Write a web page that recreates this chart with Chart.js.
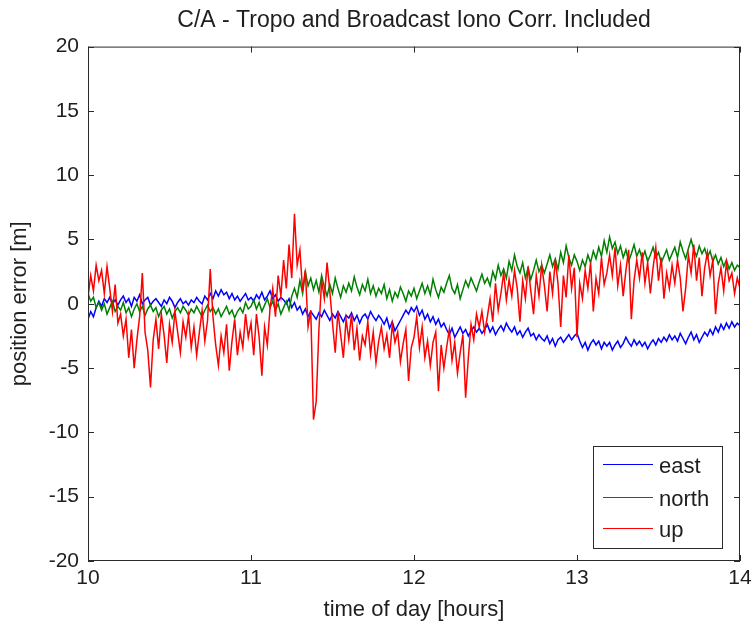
<!DOCTYPE html>
<html>
<head>
<meta charset="utf-8">
<script src="https://cdn.jsdelivr.net/npm/chart.js@4"></script>
<style>
  html, body { margin: 0; padding: 0; background: #fff; }
  #chart { display: block; }
</style>
</head>
<body>
<canvas id="chart" width="752" height="626"></canvas>
<script>
// samples every minute from 10:00 to 14:00
const startHour = 10;
const samplesPerHour = 60;

const seriesNames = ["east", "north", "up"];
const seriesColors = ["#0000ff", "#008000", "#ff0000"];
const xTicks = [10, 11, 12, 13, 14];
const yTicks = [-20, -15, -10, -5, 0, 5, 10, 15, 20];

const east = [
  -1.2, -0.6, -1.0, -0.3, 0.2, -0.2, 0.4, 0.1, 0.5, 0.0, 0.3, -0.1,
  0.3, 0.6, 0.1, 0.4, -0.2, 0.5, 0.2, 0.7, 0.0, 0.3, 0.5, -0.1,
  0.2, 0.4, 0.1, -0.2, 0.3, 0.0, 0.5, 0.2, -0.3, 0.1, 0.4, 0.0,
  0.2, -0.1, 0.3, 0.1, 0.5, 0.2, 0.0, 0.6, 0.3, 0.8, 0.4, 1.0,
  0.6, 1.1, 0.7, 0.9, 0.4, 0.8, 0.3, 0.6, 0.2, 0.5, 0.8, 0.3,
  0.5, 0.2, 0.7, 0.4, 0.9, 0.3, 0.6, 1.0, 0.4, 0.7, 0.2, 0.5,
  0.3, 0.0, 0.4, -0.3, 0.1, -0.5, -0.2, -0.8, -0.4, -1.0, -0.6, -0.9,
  -1.2, -0.7, -1.0, -0.5, -0.9, -1.3, -0.8, -1.1, -0.6, -1.0, -1.4, -0.9,
  -1.1, -0.7, -1.3, -0.9, -1.5, -1.0, -0.8, -1.2, -0.6, -1.0, -1.3, -0.9,
  -1.2, -1.6, -1.1, -1.9, -1.4, -2.1, -1.7, -1.3, -0.9, -0.5, -0.8, -0.3,
  -0.6, -0.2, -0.9, -0.5, -1.2, -0.8, -1.4, -1.0, -1.6, -1.2, -1.8, -1.5,
  -2.0, -2.4, -1.9, -2.6, -2.2, -1.8, -2.3, -2.0, -2.5, -2.1, -1.8, -2.2,
  -1.9, -2.3, -2.0, -1.6, -2.2, -1.8, -2.4, -2.0, -1.7, -2.1, -1.5, -1.9,
  -2.2, -1.8, -2.4, -2.1, -2.6, -2.2, -1.9, -2.5, -2.3, -2.8, -2.4, -2.7,
  -2.9, -2.5, -3.1, -2.7, -3.3, -2.8, -2.6, -3.0, -2.7, -2.4, -2.8, -2.5,
  -2.3, -2.9, -3.4, -3.0, -3.6, -3.1, -2.8, -3.2, -2.9, -3.5, -3.0, -3.3,
  -3.0, -3.6, -3.2, -2.9, -3.4, -3.1, -2.6, -3.0, -3.3, -2.8, -3.2, -2.9,
  -3.3, -3.0, -3.5, -3.1, -2.8, -3.2, -2.7, -3.0, -2.6, -2.9, -2.4, -2.8,
  -2.5, -2.9, -2.3, -2.7, -3.1, -2.6, -2.2, -2.8, -2.4, -3.0, -2.6, -2.2,
  -2.5, -2.0, -2.4, -1.8, -2.2, -1.6, -2.0, -1.5, -1.9, -1.4, -1.8, -1.5, -1.7
];

const north = [
  0.8, 0.2, 0.5, -0.3, 0.1, -0.5, 0.0, -0.8, -0.3, 0.2, -0.6, -0.2,
  -0.5, 0.1, -0.7, -0.3, -1.0, -0.4, 0.0, -0.6, -0.2, -0.9, -0.4, -0.1,
  -0.6, -0.3, -1.0, -0.5, -0.2, -0.8, -0.4, -1.1, -0.6, -0.3, -0.7, -0.2,
  -0.5, -0.9, -0.4, -0.7, -0.2, -0.6, -1.0, -0.5, -0.1, -0.6, -0.3, -0.8,
  -0.4, -1.0, -0.6, -0.2, -0.8, -0.5, -1.1, -0.6, -0.3, -0.7, 0.1, -0.4,
  -0.2, 0.3, -0.4, 0.1, -0.6, -0.1, 0.4, -0.3, 0.2, -0.5, 0.0, -0.8,
  -0.3, 0.2, -0.5, 0.6, 1.2, 0.5, 1.8, 0.8, 2.5, 1.4, 2.0, 1.1,
  1.8, 0.9, 2.2, 1.3, 0.6, 1.5, 0.8, 2.0, 1.2, 0.5, 1.4, 0.9,
  1.6, 1.0, 2.1, 1.3, 0.7, 1.5, 1.0, 1.9, 0.8, 1.4, 0.6, 1.2,
  0.8, 1.5, 0.4, 1.1, 0.2, 0.9, 0.5, 1.3, 0.8, 0.2, 1.0, 0.6,
  1.2, 0.4, 1.0, 1.6, 0.8, 1.4, 0.7, 1.9, 1.1, 0.5, 1.3, 0.9,
  1.6, 2.2, 1.2, 0.8, 1.5, 0.4, 1.1, 1.8, 1.3, 2.0, 1.5, 1.0,
  1.7, 2.3, 1.6, 2.0, 1.4, 2.5, 1.9, 3.0, 2.2, 2.7, 2.0, 3.3,
  2.6, 3.8, 2.9, 2.4, 3.2, 2.0, 2.8, 1.9, 2.6, 3.4, 2.5, 3.0,
  2.4, 3.1, 3.8, 2.9, 3.5, 2.7, 4.0, 3.2, 4.5, 3.6, 3.0, 3.8,
  3.3, 2.6, 3.4, 2.9, 3.8, 3.2, 4.1, 3.5, 4.4, 3.7, 4.9, 4.0,
  5.2, 4.3, 4.8, 3.9, 4.5, 3.6, 4.2, 3.3, 3.9, 4.6, 3.7, 4.2,
  3.5, 4.1, 3.3, 3.8, 4.4, 3.6, 4.0, 3.2, 3.7, 4.2, 3.4, 3.9,
  4.4, 3.6, 4.8, 4.1, 3.5, 4.3, 5.0, 4.2, 3.7, 4.5, 3.9, 4.3,
  3.6, 4.1, 3.3, 3.8, 3.1, 3.6, 2.9, 3.4, 2.7, 3.2, 2.6, 3.0, 2.8
];

const up = [
  0.5, 2.2, 1.0, 3.0, 1.8, 2.6, 0.8, 2.9, 1.2, -0.6, 1.5, -1.5,
  -0.8, -2.5, -1.2, -4.2, -2.0, -5.0, -2.8, -1.0, 2.4, -2.2, -3.6, -6.5,
  -2.8, -1.2, -3.5, -0.8, -2.4, -4.6, -1.6, -3.0, -0.6, -2.2, -3.8, -1.4,
  -2.6, -0.9, -3.4, -1.8, -4.0, -2.2, -0.5, -2.9, -1.3, 2.7, -1.0, -3.2,
  -4.8, -2.5, -3.8, -1.6, -5.2, -2.9, -1.2, -4.0, -2.2, -3.4, -0.8, -2.6,
  -1.5, -4.0, -0.8, -2.6, -5.6, -1.8, -3.2, -0.4, 1.2, -1.0, 2.2, 0.6,
  3.4, 1.2, 4.6, 2.0, 7.0, 3.0, 4.2, 1.0, 2.6, -1.8, -0.5, -9.0,
  -7.6, -2.0, 1.8, 0.4, 3.2, 1.0, -1.5, -3.8, -0.6, -2.4, -4.2, -1.2,
  -2.8, -0.8, -3.6, -1.9, -4.4, -2.5, -3.2, -1.4, -3.9, -2.2, -4.6, -2.9,
  -1.8, -3.5, -2.4, -4.2, -1.6, -3.0, -2.2, -4.5, -3.1, -2.0, -6.0, -3.4,
  -2.6, -1.0, -3.4, -1.8, -4.2, -2.9, -4.8, -3.0, -2.2, -6.8, -3.2, -5.0,
  -3.4, -2.0, -4.4, -3.0, -5.4, -3.8, -2.4, -7.3, -4.2, -1.6, -2.8, -0.8,
  -1.8, -0.6, -2.2, -1.0, 0.4, -1.4, 1.6, -0.5, 0.8, 2.4, 0.3, 1.9,
  0.6, 2.6, 1.2, -1.4, 1.8, 0.4, 2.9, 1.0, -0.8, 2.2, 0.6, 3.0,
  1.4, -0.6, 2.5, 0.8, 3.4, 1.6, -1.8, 2.2, 0.5, 3.8, 1.2, 2.8,
  -2.6, 1.6, 0.4, 2.6, 1.2, 3.2, -0.6, 2.0, 0.8, 3.6, 1.5, 2.4,
  3.8, 2.2, 4.4, 1.4, 3.0, 0.6, 2.6, 4.2, -1.2, 1.8, 3.4, 2.0,
  4.0, 1.6, 3.2, 0.8, 2.8, 4.4, 1.8, 3.6, 0.4, 2.4, 1.2, 3.0,
  1.6, 3.4, 2.0, -0.6, 1.2, 3.8, 2.4, 4.6, 1.8, 3.6, 0.6, 2.8,
  4.0, 2.2, 3.4, -0.8, 1.6, 2.8, 1.0, 3.2, 1.8, 2.4, 0.8, 2.0, 1.2
];

const seriesValues = [east, north, up];
const times = east.map((v, i) => startHour + i / samplesPerHour);

const FONT = '"Liberation Sans", Arial, Helvetica, sans-serif';
const TEXT = "#1e1e1e";

// box, inward ticks on all four sides, legend inside lower right (matlab look)
const matlabFrame = {
  id: "matlabFrame",
  afterDraw(chart) {
    const { ctx, chartArea: a, scales } = chart;
    const xs = scales.x, ys = scales.y;
    ctx.save();
    ctx.strokeStyle = "#2a2a2a";
    ctx.lineWidth = 1;
    ctx.strokeRect(a.left + 0.5, a.top + 0.5, a.right - a.left - 1, a.bottom - a.top - 1);
    ctx.beginPath();
    xTicks.forEach(t => {
      const px = Math.round(xs.getPixelForValue(t)) + 0.5;
      ctx.moveTo(px, a.bottom); ctx.lineTo(px, a.bottom - 6);
      ctx.moveTo(px, a.top); ctx.lineTo(px, a.top + 6);
    });
    yTicks.forEach(t => {
      const py = Math.round(ys.getPixelForValue(t)) + 0.5;
      ctx.moveTo(a.left, py); ctx.lineTo(a.left + 6, py);
      ctx.moveTo(a.right, py); ctx.lineTo(a.right - 6, py);
    });
    ctx.stroke();

    // legend
    const lw = 129, lh = 102;
    const lx = a.right - 147, ly = a.bottom - 115;
    ctx.fillStyle = "#fff";
    ctx.fillRect(lx, ly, lw, lh);
    ctx.strokeStyle = "#2a2a2a";
    ctx.strokeRect(lx + 0.5, ly + 0.5, lw, lh);
    const rows = [18, 51, 82];
    ctx.font = "22px " + FONT;
    ctx.textBaseline = "alphabetic";
    ctx.textAlign = "left";
    seriesNames.forEach((name, k) => {
      const ry = ly + rows[k] + 0.5;
      ctx.strokeStyle = seriesColors[k];
      ctx.lineWidth = 1;
      ctx.beginPath();
      ctx.moveTo(lx + 10, ry); ctx.lineTo(lx + 60, ry);
      ctx.stroke();
      ctx.fillStyle = TEXT;
      ctx.fillText(name, lx + 66, ry + 8);
    });
    ctx.restore();
  }
};

const datasets = seriesNames.map((name, k) => ({
  label: name,
  data: seriesValues[k].map((v, i) => ({ x: times[i], y: v })),
  borderColor: seriesColors[k],
  backgroundColor: seriesColors[k],
  borderWidth: 1.5,
  pointRadius: 0,
  tension: 0,
  fill: false,
  order: seriesNames.length - k
}));

const config = {
  type: "line",
  data: { datasets: datasets },
  options: {
    responsive: false,
    animation: false,
    events: [],
    layout: { padding: { left: 0, right: 12, top: 0, bottom: 0 } },
    plugins: {
      legend: { display: false },
      tooltip: { enabled: false },
      title: {
        display: true,
        fullSize: false,
        text: "C/A - Tropo and Broadcast Iono Corr. Included",
        color: TEXT,
        font: { family: FONT, size: 23, weight: "normal" },
        padding: { top: 7, bottom: 12 }
      }
    },
    scales: {
      x: {
        type: "linear",
        min: 10,
        max: 14,
        afterBuildTicks: s => { s.ticks = xTicks.map(v => ({ value: v })); },
        afterFit: s => { s.height = 65; s.paddingLeft = 0; s.paddingRight = 0; },
        grid: { display: false, drawTicks: false },
        border: { display: false },
        ticks: { color: TEXT, padding: 5, maxRotation: 0, font: { family: FONT, size: 21 } },
        title: {
          display: true,
          text: "time of day [hours]",
          color: TEXT,
          font: { family: FONT, size: 22 },
          padding: { top: 0, bottom: 3 }
        }
      },
      y: {
        min: -20,
        max: 20,
        afterBuildTicks: s => { s.ticks = yTicks.map(v => ({ value: v })); },
        afterFit: s => { s.width = 88; s.paddingTop = 0; s.paddingBottom = 0; },
        grid: { display: false, drawTicks: false },
        border: { display: false },
        ticks: { color: TEXT, padding: 9, font: { family: FONT, size: 21 } },
        title: {
          display: true,
          text: "position error [m]",
          color: TEXT,
          font: { family: FONT, size: 22 },
          padding: { top: 7, bottom: 0 }
        }
      }
    }
  },
  plugins: [matlabFrame]
};

var myChart = new Chart(document.getElementById("chart"), config);
</script>
</body>
</html>
